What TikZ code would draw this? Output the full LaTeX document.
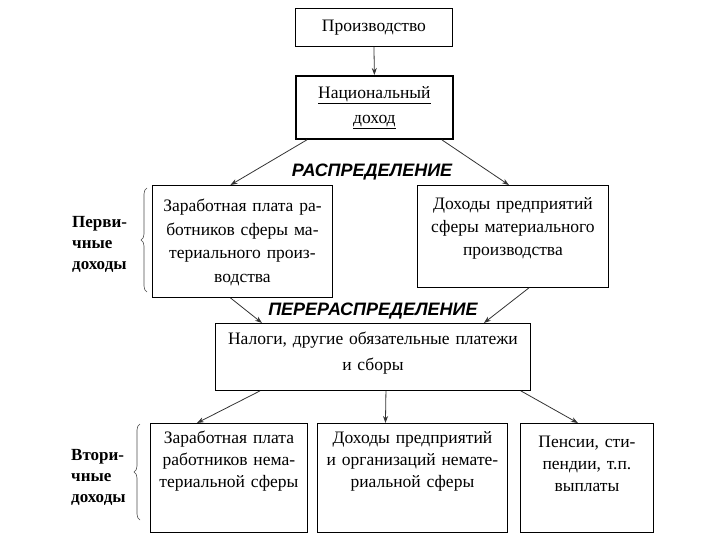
\documentclass[tikz,border=0pt]{standalone}
\usepackage{fontspec}
\setmainfont{Liberation Serif}
\setsansfont{Liberation Sans}
\usetikzlibrary{arrows.meta,decorations.pathreplacing}
\tikzset{
  box/.style={draw=black, line width=0.9pt, fill=white, minimum width=#1, inner sep=0pt},
  txt/.style={align=center, inner sep=0pt, font=\fontsize{17.5}{22}\selectfont},
  side/.style={align=left, inner sep=0pt, font=\fontsize{17}{21}\selectfont\bfseries},
  head/.style={inner sep=0pt, font=\fontsize{18}{20}\selectfont\sffamily\bfseries\itshape},
  arr/.style={draw=black!80, line width=0.8pt, -{Stealth[length=7pt,width=5pt]}},
  brc/.style={draw=black!70, line width=0.6pt, decorate, decoration={brace, amplitude=6pt}}
}
\begin{document}
\begin{tikzpicture}[x=1pt,y=-1pt]
\useasboundingbox (0,0) rectangle (720,540);
% boxes
\node[box=157pt, minimum height=38pt, anchor=north west] (b1) at (295,8) {};
\node[txt, anchor=center] (t1) at (b1.center) {Производство};
\node[box=157pt, minimum height=63pt, anchor=north west, line width=1.8pt] (b2) at (295,75) {};
\node[txt, anchor=center, font=\fontsize{17.5}{25}\selectfont] (t2) at (b2.center) {\underline{Национальный}\\\underline{доход}};
\node[box=180pt, minimum height=112pt, anchor=north west] (b3) at (152,185) {};
\node[txt, anchor=north, text width=178pt, font=\fontsize{17.5}{23.5}\selectfont] (t3) at ([yshift=-14pt]b3.north) {Заработная плата ра-\\ботников сферы ма-\\териального произ-\\водства};
\node[box=191pt, minimum height=102pt, anchor=north west] (b4) at (417,185) {};
\node[txt, anchor=north, text width=189pt, font=\fontsize{17.5}{23}\selectfont] (t4) at ([yshift=-12pt]b4.north) {Доходы предприятий\\сферы материального\\производства};
\node[box=315pt, minimum height=67pt, anchor=north west] (b5) at (215,323) {};
\node[txt, anchor=north, text width=313pt, font=\fontsize{17.5}{26}\selectfont] (t5) at ([yshift=-9pt]b5.north) {Налоги, другие обязательные платежи\\и сборы};
\node[box=157pt, minimum height=109pt, anchor=north west] (b6) at (150,423) {};
\node[txt, anchor=north, text width=155pt] (t6) at ([yshift=-8pt]b6.north) {Заработная плата\\работников нема-\\териальной сферы};
\node[box=190pt, minimum height=109pt, anchor=north west] (b7) at (317,423) {};
\node[txt, anchor=north, text width=188pt] (t7) at ([yshift=-8pt]b7.north) {Доходы предприятий\\и организаций немате-\\риальной сферы};
\node[box=133pt, minimum height=109pt, anchor=north west] (b8) at (520,423) {};
\node[txt, anchor=north, text width=131pt] (t8) at ([yshift=-13pt]b8.north) {Пенсии, сти-\\пендии, т.п.\\выплаты};
% headings
\node[head] (h1) at (372,172) {РАСПРЕДЕЛЕНИЕ};
\node[head] (h2) at (373,311) {ПЕРЕРАСПРЕДЕЛЕНИЕ};
% side labels
\node[side, anchor=west] (s1) at (72,244) {Перви-\\чные\\доходы};
\node[side, anchor=west] (s2) at (71,477) {Втори-\\чные\\доходы};
% braces
\coordinate (br1a) at (147,292);
\coordinate (br1b) at (147,188);
\coordinate (br2a) at (140,520);
\coordinate (br2b) at (140,424);
\draw[brc] (br1a) -- (br1b);
\draw[brc] (br2a) -- (br2b);
% arrows
\draw[arr] (b1.south) -- (b2.north);
\draw[arr] ([xshift=12pt]b2.south west) -- ([xshift=-12pt]b3.north);
\draw[arr] ([xshift=-12pt]b2.south east) -- ([xshift=-4pt]b4.north);
\draw[arr] ([xshift=-12pt]b3.south) -- ([xshift=47pt]b5.north west);
\draw[arr] ([xshift=-80pt]b4.south east) -- ([xshift=-47pt]b5.north east);
\draw[arr] ([xshift=45pt]b5.south west) -- ([xshift=-32pt]b6.north);
\draw[arr] ([xshift=13pt]b5.south) -- ([xshift=-27pt]b7.north);
\draw[arr] ([xshift=-10pt]b5.south east) -- ([xshift=-9pt]b8.north);
\end{tikzpicture}
\end{document}
